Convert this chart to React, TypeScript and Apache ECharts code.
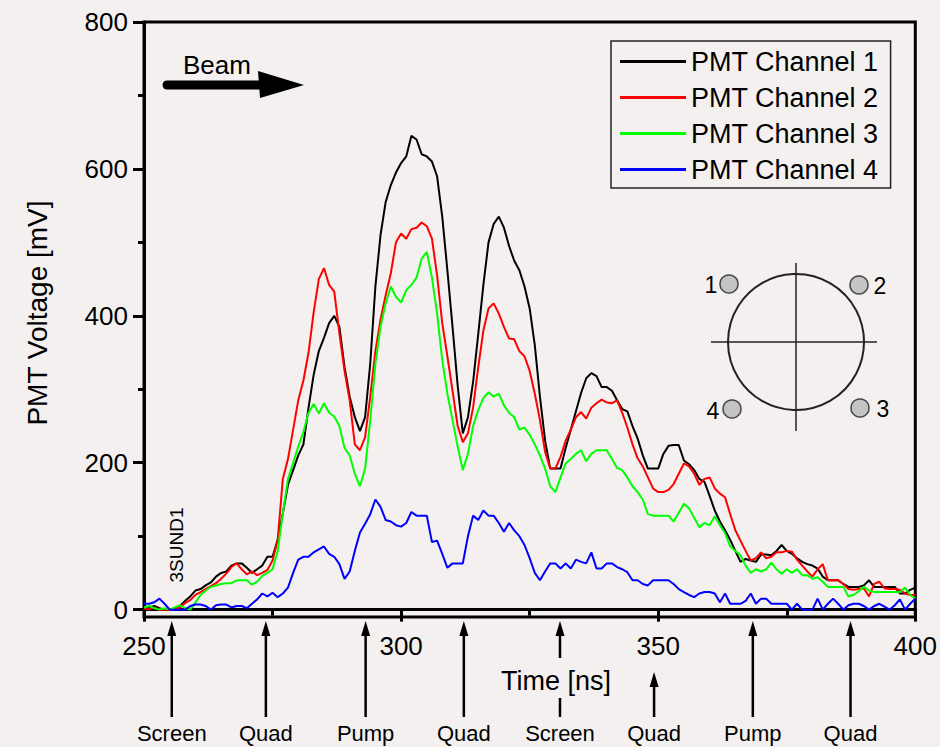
import { useEffect, useRef } from "react";
import * as echarts from "echarts";

// Sampling grid of the traces (ns)
const T_START = 250;
const T_STEP = 1;

// PMT Channel 1 (mV), one value per ns from 250 to 400
const CH1 = [
  2, 3, 5, 2, 0, 0, 2, 5, 12, 18,
  26, 28, 33, 37, 45, 50, 52, 60, 63, 63,
  57, 50, 55, 60, 72, 72, 95, 131, 170, 190,
  210, 225, 275, 320, 352, 370, 390, 400, 385, 330,
  290, 262, 243, 262, 335, 440, 510, 555, 578, 595,
  608, 617, 645, 640, 620, 617, 610, 590, 535, 462,
  385, 305, 240, 262, 310, 375, 442, 500, 525, 535,
  520, 495, 475, 462, 440, 410, 360, 290, 230, 192,
  192, 192, 220, 245, 270, 295, 315, 322, 318, 303,
  303, 298, 285, 273, 270, 250, 233, 210, 192, 192,
  192, 212, 223, 224, 224, 203, 198, 190, 178, 174,
  155, 135, 120, 108, 95, 80, 65, 69, 67, 65,
  75, 75, 74, 80, 88, 80, 76, 70, 65, 62,
  60, 56, 45, 40, 40, 40, 35, 31, 31, 31,
  33, 40, 31, 31, 31, 31, 31, 22, 22, 27,
  30,
];

// PMT Channel 2 (mV)
const CH2 = [
  2, 0, 3, 0, 0, 0, 1, 3, 9, 13,
  20, 24, 28, 32, 36, 42, 49, 58, 63, 55,
  48, 52, 47, 50, 54, 67, 95, 178, 205, 245,
  285, 312, 350, 405, 450, 465, 442, 433, 376, 325,
  285, 225, 217, 235, 290, 352, 395, 428, 458, 500,
  512, 505, 518, 520, 527, 522, 505, 455, 390, 345,
  298, 250, 228, 240, 275, 330, 380, 410, 417, 403,
  385, 369, 368, 352, 345, 325, 294, 258, 215, 192,
  192, 208, 230, 245, 262, 269, 260, 275, 281, 286,
  282, 281, 285, 268, 248, 225, 206, 195, 180, 165,
  160, 160, 163, 171, 185, 199, 195, 185, 170, 178,
  180, 165, 158, 153, 130, 108, 94, 80, 67, 70,
  78, 70, 72, 78, 78, 80, 79, 68, 60, 52,
  45, 55, 62, 40, 40, 40, 35, 28, 27, 28,
  29, 18, 35, 38, 29, 28, 28, 27, 22, 20,
  20,
];

// PMT Channel 3 (mV)
const CH3 = [
  3, 5, 2, 0, 2, 0, 3, 6, 2, 0,
  10, 20, 26, 31, 33, 35, 36, 36, 40, 40,
  40, 34, 38, 46, 50, 55, 80, 131, 178, 200,
  222, 242, 268, 280, 267, 281, 268, 263, 250, 220,
  210, 185, 168, 192, 258, 335, 385, 417, 440, 426,
  418, 435, 442, 452, 478, 487, 452, 403, 340, 294,
  258, 222, 190, 212, 250, 272, 288, 296, 290, 294,
  278, 268, 262, 245, 248, 238, 225, 210, 192, 168,
  160, 180, 199, 205, 212, 217, 202, 212, 217, 217,
  217, 205, 193, 190, 180, 168, 160, 150, 130, 128,
  128, 128, 128, 120, 132, 144, 138, 125, 112, 118,
  115, 127, 115, 104, 86, 80, 74, 60, 50, 55,
  52, 55, 64, 55, 49, 55, 50, 55, 47, 47,
  42, 44, 38, 31, 31, 31, 31, 18, 20, 25,
  31, 26, 24, 24, 24, 24, 24, 24, 30, 20,
  15,
];

// PMT Channel 4 (mV)
const CH4 = [
  8, 8, 10, 15, 8, 0, 0, 0, 0, 5,
  7, 7, 5, 0, 6, 7, 7, 3, 5, 5,
  2, 8, 14, 22, 18, 23, 17, 22, 30, 50,
  68, 72, 72, 78, 82, 86, 76, 72, 62, 42,
  52, 80, 105, 117, 130, 150, 140, 122, 120, 115,
  113, 118, 133, 128, 128, 128, 92, 94, 76, 57,
  63, 63, 63, 100, 128, 122, 135, 128, 128, 118,
  106, 118, 108, 100, 88, 70, 50, 40, 52, 63,
  63, 56, 63, 56, 68, 65, 63, 78, 56, 56,
  63, 63, 58, 55, 51, 40, 40, 35, 33, 40,
  40, 40, 40, 35, 28, 24, 20, 17, 22, 24,
  24, 22, 10, 22, 8, 8, 8, 12, 22, 8,
  15, 15, 8, 8, 8, 8, 0, 8, 0, 0,
  0, 15, 0, 8, 15, 8, 0, 6, 8, 8,
  5, 0, 5, 8, 4, 0, 6, 14, 0, 8,
  15,
];

const SERIES_NAMES = ["PMT Channel 1", "PMT Channel 2", "PMT Channel 3", "PMT Channel 4"];
const SERIES_COLORS = ["#000000", "#ff0000", "#00ff00", "#0000ff"];
const SERIES_DATA = [CH1, CH2, CH3, CH4];

const Y_LABEL_VALUES = [0, 200, 400, 600, 800];
const Y_MINOR_VALUES = [100, 300, 500, 700];

// Beamline elements marked under the time axis
const ELEMENT_NAMES = ["Screen", "Quad", "Pump", "Quad", "Screen", "Quad", "Pump", "Quad"];
const ELEMENT_TIMES = [255.4, 273.7, 293.1, 312.2, 330.9, 349.2, 368.4, 387.4];

const PMT_LABELS = ["1", "2", "3", "4"];

const FONT = '"Liberation Sans", Arial, Helvetica, sans-serif';
const BG = "#f3f0ef";

export default function App() {
  const ref = useRef<HTMLDivElement>(null);

  useEffect(() => {
    document.body.style.margin = "0";
    if (!ref.current) return;
    const chart = echarts.init(ref.current, null, { renderer: "svg" });

    const series = SERIES_DATA.map((vals, i) => ({
      name: SERIES_NAMES[i],
      type: "line",
      symbol: "none",
      showSymbol: false,
      data: vals.map((v, k) => [T_START + k * T_STEP, v]),
      lineStyle: { color: SERIES_COLORS[i], width: 2 },
      itemStyle: { color: SERIES_COLORS[i] },
      emphasis: { disabled: true },
      z: 2 + i,
    }));

    chart.setOption({
      animation: false,
      backgroundColor: BG,
      textStyle: { fontFamily: FONT },
      grid: {
        left: 144,
        top: 22,
        right: 23,
        bottom: 130,
        show: true,
        borderColor: "#000",
        borderWidth: 3,
        backgroundColor: "transparent",
      },
      legend: {
        orient: "vertical",
        left: 611,
        top: 41,
        icon: "rect",
        itemWidth: 66,
        itemHeight: 3,
        itemGap: 9,
        padding: [7, 12, 5, 9],
        borderColor: "#222",
        borderWidth: 1.5,
        data: SERIES_NAMES,
        textStyle: { fontSize: 27, fontFamily: FONT, color: "#000" },
        selectedMode: false,
      },
      xAxis: {
        type: "value",
        min: 250,
        max: 400,
        interval: 50,
        axisLine: { show: true, lineStyle: { color: "#000", width: 3 } },
        axisTick: { show: true, length: 12, lineStyle: { color: "#000", width: 3 } },
        minorTick: { show: true, splitNumber: 2, length: 6, lineStyle: { color: "#000", width: 3 } },
        axisLabel: { fontSize: 26, color: "#000", margin: 16, fontFamily: FONT },
        splitLine: { show: false },
        minorSplitLine: { show: false },
      },
      yAxis: [
        {
          type: "value",
          min: -10,
          max: 800,
          position: "left",
          axisLine: { show: true, lineStyle: { color: "#000", width: 3 } },
          axisTick: {
            show: true,
            length: 11,
            customValues: Y_LABEL_VALUES,
            lineStyle: { color: "#000", width: 3 },
          },
          axisLabel: {
            customValues: Y_LABEL_VALUES,
            fontSize: 26,
            color: "#000",
            margin: 16,
            fontFamily: FONT,
          },
          splitLine: { show: false },
        },
        {
          type: "value",
          min: -10,
          max: 800,
          position: "left",
          offset: 0,
          axisLine: { show: false },
          axisTick: {
            show: true,
            length: 6,
            customValues: Y_MINOR_VALUES,
            lineStyle: { color: "#000", width: 3 },
          },
          axisLabel: { show: false },
          splitLine: { show: false },
        },
      ],
      series,
    });

    // Annotations placed through the x axis scale
    const graphics: any[] = [];
    const arrowBottom = 717;
    ELEMENT_TIMES.forEach((t, i) => {
      const px = chart.convertToPixel({ xAxisIndex: 0 }, t) as number;
      const tip = i === 5 ? 672 : 621;
      graphics.push({
        type: "polygon",
        shape: { points: [[px - 4.5, tip + 15], [px, tip], [px + 4.5, tip + 15]] },
        style: { fill: "#000" },
      });
      const segs = i === 4 ? [[tip + 10, 658], [698, arrowBottom]] : [[tip + 10, arrowBottom]];
      segs.forEach(([a, b]) =>
        graphics.push({
          type: "line",
          shape: { x1: px, y1: a, x2: px, y2: b },
          style: { stroke: "#000", lineWidth: 2.5 },
        })
      );
      graphics.push({
        type: "text",
        style: {
          text: ELEMENT_NAMES[i],
          x: px,
          y: 733,
          align: "center",
          verticalAlign: "middle",
          fontSize: 22,
          fontFamily: FONT,
          fill: "#000",
        },
      });
    });

    // Axis titles
    graphics.push({
      type: "text",
      style: {
        text: "Time [ns]",
        x: 556,
        y: 681,
        align: "center",
        verticalAlign: "middle",
        fontSize: 27,
        fontFamily: FONT,
        fill: "#000",
      },
    });
    graphics.push({
      type: "text",
      x: 37,
      y: 313,
      rotation: Math.PI / 2,
      style: {
        text: "PMT Voltage [mV]",
        x: 0,
        y: 0,
        align: "center",
        verticalAlign: "middle",
        fontSize: 28,
        fontFamily: FONT,
        fill: "#000",
      },
    });
    graphics.push({
      type: "text",
      x: 176,
      y: 545,
      rotation: Math.PI / 2,
      style: {
        text: "3SUND1",
        x: 0,
        y: 0,
        align: "center",
        verticalAlign: "middle",
        fontSize: 19,
        fontFamily: FONT,
        fill: "#000",
      },
    });

    // Beam direction arrow
    graphics.push({
      type: "line",
      shape: { x1: 167, y1: 85, x2: 266, y2: 85 },
      style: { stroke: "#000", lineWidth: 9, lineCap: "round" },
    });
    graphics.push({
      type: "polygon",
      shape: { points: [[258, 71], [304, 85], [260, 98]] },
      style: { fill: "#000" },
    });
    graphics.push({
      type: "text",
      style: {
        text: "Beam",
        x: 183,
        y: 65,
        align: "left",
        verticalAlign: "middle",
        fontSize: 26,
        fontFamily: FONT,
        fill: "#000",
      },
    });

    // PMT layout sketch
    const cx = 796;
    const cy = 342;
    graphics.push({
      type: "circle",
      shape: { cx, cy, r: 68 },
      style: { fill: "none", stroke: "#222", lineWidth: 2 },
    });
    graphics.push({
      type: "line",
      shape: { x1: 711, y1: cy, x2: 877, y2: cy },
      style: { stroke: "#222", lineWidth: 1.5 },
    });
    graphics.push({
      type: "line",
      shape: { x1: cx, y1: 263, x2: cx, y2: 431 },
      style: { stroke: "#222", lineWidth: 1.5 },
    });
    const pmtPos = [
      [729, 284, 711, 285],
      [859, 285, 880, 286],
      [860, 408, 883, 409],
      [732, 409, 713, 411],
    ];
    pmtPos.forEach((p, i) => {
      graphics.push({
        type: "circle",
        shape: { cx: p[0], cy: p[1], r: 9 },
        style: { fill: "#c4c4c4", stroke: "#444", lineWidth: 1.5 },
      });
      graphics.push({
        type: "text",
        style: {
          text: PMT_LABELS[i],
          x: p[2],
          y: p[3],
          align: "center",
          verticalAlign: "middle",
          fontSize: 23,
          fontFamily: FONT,
          fill: "#000",
        },
      });
    });

    chart.setOption({ graphic: graphics });

    return () => {
      chart.dispose();
    };
  }, []);

  return <div ref={ref} style={{ width: 940, height: 747, background: BG }} />;
}
